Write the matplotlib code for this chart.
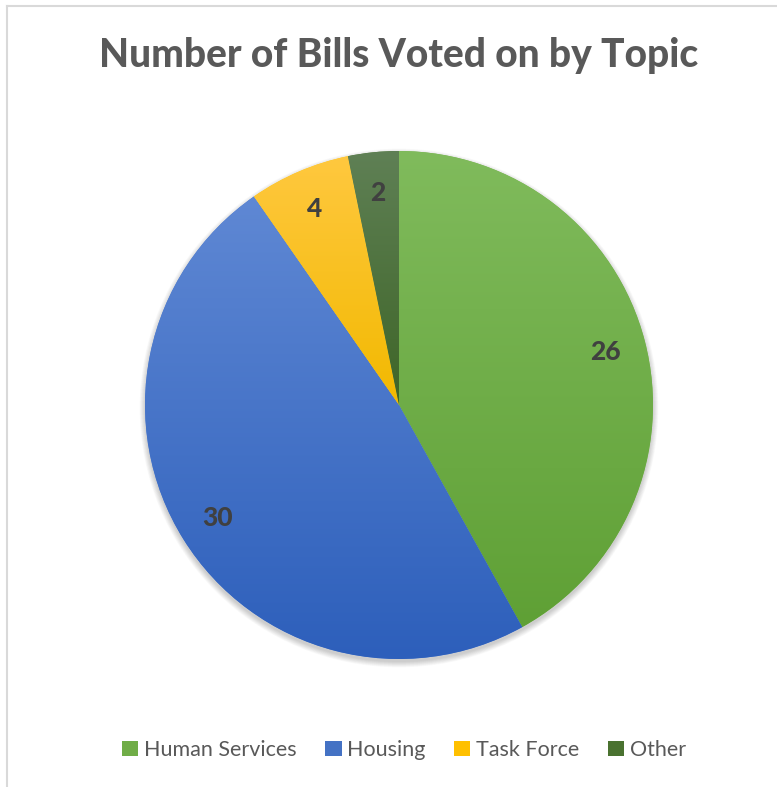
import numpy as np
import matplotlib.pyplot as plt
from matplotlib.patches import Circle
from matplotlib.lines import Line2D
from matplotlib.colors import LinearSegmentedColormap

topics = ["Human Services", "Housing", "Task Force", "Other"]
bills = [26, 30, 4, 2]
top_colors = ["#80bb5c", "#5f88d4", "#ffc83f", "#5f8055"]
bottom_colors = ["#5fa035", "#2d5fbb", "#f2b900", "#3e6527"]
mid_colors = ["#70ad47", "#4472c4", "#ffc000", "#4a7230"]

plt.rcParams['font.family'] = ['Lato', 'DejaVu Sans']

fig = plt.figure(figsize=(7.77, 7.87), dpi=100)
fig.set_facecolor("white")
ax = fig.add_axes([0, 0, 1, 1])

cx, cy, R = 399, 382, 254

# soft shadow under the pie
for i in range(10):
    ax.add_patch(Circle((cx, cy - 3), R + 0.6 * i, color="black", alpha=0.018,
                        lw=0, zorder=0))
ax.add_patch(Circle((cx, cy), R, color="white", lw=0, zorder=0.5))

wedges, texts, autotexts = ax.pie(
    bills, colors=mid_colors, startangle=90, counterclock=False,
    center=(cx, cy), radius=R, autopct=lambda p: f"{p * sum(bills) / 100:.0f}",
    pctdistance=0.84, wedgeprops={"linewidth": 0},
    textprops={"fontsize": 19, "fontweight": "black", "color": "#404040"})

for t in autotexts:
    t.set_zorder(5)

# vertical gradient fill clipped to each wedge
for w, c1, c2 in zip(wedges, top_colors, bottom_colors):
    w.set_zorder(1)
    bb = w.get_path().get_extents(w.get_patch_transform())
    cmap = LinearSegmentedColormap.from_list("g", [c2, c1])
    grad = np.linspace(0, 1, 256).reshape(-1, 1)
    im = ax.imshow(grad, cmap=cmap, origin="lower", aspect="auto",
                   extent=[bb.x0, bb.x1, bb.y0, bb.y1], zorder=2,
                   interpolation="bilinear")
    im.set_clip_path(w)

ax.set_xlim(0, 777)
ax.set_ylim(0, 787)
ax.set_aspect("auto")
ax.axis("off")

# chart border (top and left visible)
fig.add_artist(Line2D([7 / 777, 1], [1 - 6 / 787, 1 - 6 / 787],
                      color="#d9d9d9", lw=1.5, transform=fig.transFigure))
fig.add_artist(Line2D([7 / 777, 7 / 777], [0, 1 - 6 / 787],
                      color="#d9d9d9", lw=1.5, transform=fig.transFigure))

fig.text(399 / 777, 1 - 55 / 787, "Number of Bills Voted on by Topic",
         fontsize=28, fontweight="black", color="#595959", ha="center", va="center")

leg = fig.legend(wedges, topics, loc="center", bbox_to_anchor=(404 / 777, 1 - 750 / 787),
                 ncol=4, frameon=False, fontsize=15.5, handlelength=0.75,
                 handleheight=0.75, handletextpad=0.25, columnspacing=1.35)
for t in leg.get_texts():
    t.set_color("#595959")

fig.savefig("out.png", dpi=100)
